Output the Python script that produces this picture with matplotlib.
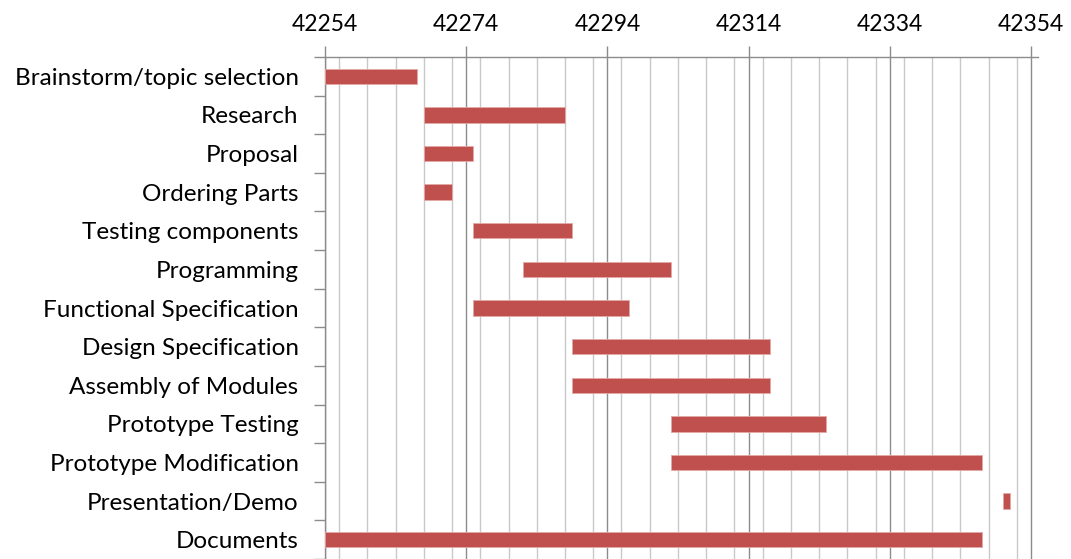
import matplotlib.pyplot as plt
from matplotlib.ticker import MultipleLocator, FixedLocator

tasks = [
    "Brainstorm/topic selection", "Research", "Proposal", "Ordering Parts",
    "Testing components", "Programming", "Functional Specification",
    "Design Specification", "Assembly of Modules", "Prototype Testing",
    "Prototype Modification", "Presentation/Demo", "Documents",
]
start_day = [42254, 42268, 42268, 42268, 42275, 42282, 42275,
             42289, 42289, 42303, 42303, 42350, 42254]
duration = [13, 20, 7, 4, 14, 21, 22, 28, 28, 22, 44, 1, 93]
x_ticks = [42254, 42274, 42294, 42314, 42334, 42354]

plt.rcParams['font.family'] = ['Lato', 'DejaVu Sans']

fig = plt.figure(figsize=(10.71, 5.59), dpi=100)
ax = fig.add_axes([325 / 1071, 0.0, 713 / 1071, 1 - 57 / 559])

rows = list(range(len(tasks)))
ax.barh(rows, duration, left=start_day, height=0.4,
        color='#C0504D', edgecolor='#E3A9A7', linewidth=0.6, zorder=3)

ax.set_xlim(42254, 42355)
ax.set_ylim(len(tasks) - 0.5, -0.5)

# value axis on top, every 20 days labelled, grid every 4 days
ax.xaxis.tick_top()
ax.xaxis.set_major_locator(FixedLocator(x_ticks))
ax.xaxis.set_minor_locator(MultipleLocator(4))
ax.grid(which='major', axis='x', color='#8C8C8C', linewidth=1.0, zorder=1)
ax.grid(which='minor', axis='x', color='#C8C8C8', linewidth=1.0, zorder=1)
ax.tick_params(axis='x', which='major', length=8, width=1.0, color='#8C8C8C',
               labelsize=16.5, pad=8)
ax.tick_params(axis='x', which='minor', length=0)

# category labels, ticks drawn between rows
ax.set_yticks(rows)
ax.set_yticklabels(tasks)
ax.yaxis.set_minor_locator(FixedLocator([r + 0.5 for r in range(-1, len(tasks))]))
ax.tick_params(axis='y', which='major', length=0, labelsize=17.5, pad=19)
ax.tick_params(axis='y', which='minor', length=8, width=1.0, color='#8C8C8C')

for side in ['right', 'bottom']:
    ax.spines[side].set_visible(False)
for side in ['left', 'top']:
    ax.spines[side].set_color('#8C8C8C')
    ax.spines[side].set_linewidth(1.0)

fig.savefig("out.png", dpi=100)
